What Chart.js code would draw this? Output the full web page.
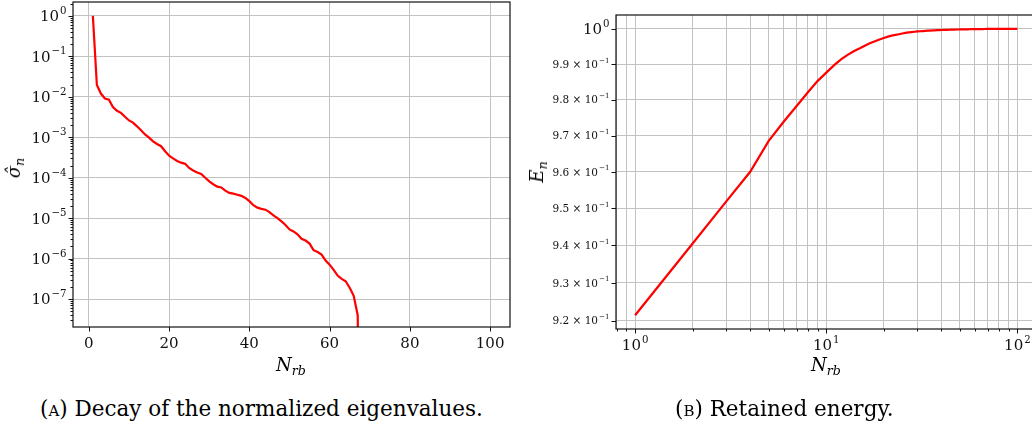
<!DOCTYPE html>
<html>
<head>
<meta charset="utf-8">
<script src="https://cdn.jsdelivr.net/npm/chart.js@4.4.0/dist/chart.umd.min.js"></script>
<style>
  html, body { margin: 0; padding: 0; background: #fff; }
  body { width: 1032px; height: 427px; position: relative; overflow: hidden; font-family: 'DejaVu Serif', serif; color: #000; }
  canvas { position: absolute; top: 0; }
  #decay { left: 0; }
  #energy { left: 540px; }
  .lbl { position: absolute; font-style: italic; font-size: 18px; line-height: 1; white-space: nowrap; transform: translate(-50%, -50%); }
  .lbl sub { font-size: 70%; vertical-align: -0.3em; line-height: 0; }
  .rot { transform: translate(-50%, -50%) rotate(-90deg); }
  .cap { position: absolute; top: 398px; font-size: 21.5px; line-height: 1; white-space: nowrap; }
  .sc { font-variant: small-caps; }
</style>
</head>
<body>
<canvas id="decay" width="530" height="360"></canvas>
<canvas id="energy" width="510" height="360"></canvas>

<div class="lbl rot" style="left:14px; top:168px;">σ̂<sub>n</sub></div>
<div class="lbl" style="left:291px; top:365px;">N<sub>rb</sub></div>
<div class="lbl rot" style="left:537px; top:172px;">E<sub>n</sub></div>
<div class="lbl" style="left:826px; top:365px;">N<sub>rb</sub></div>

<div class="cap" style="left:40px;"><span class="sc">(a)</span> Decay of the normalized eigenvalues.</div>
<div class="cap" style="left:675px;"><span class="sc">(b)</span> Retained energy.</div>

<script>
// number of reduced basis functions
const nRb = [
    1, 2, 3, 4, 5, 6, 7, 8, 9, 10,
    11, 12, 13, 14, 15, 16, 17, 18, 19, 20,
    21, 22, 23, 24, 25, 26, 27, 28, 29, 30,
    31, 32, 33, 34, 35, 36, 37, 38, 39, 40,
    41, 42, 43, 44, 45, 46, 47, 48, 49, 50,
    51, 52, 53, 54, 55, 56, 57, 58, 59, 60,
    61, 62, 63, 64, 65, 66, 67, 68, 69, 70,
    71, 72, 73, 74, 75, 76, 77, 78, 79, 80,
    81, 82, 83, 84, 85, 86, 87, 88, 89, 90,
    91, 92, 93, 94, 95, 96, 97, 98, 99, 100
];

// normalized eigenvalues (drop to round-off after 67)
const sigmaHat = [
    1, 1.95e-2, 1.2e-2, 9.1e-3, 8.5e-3, 5.6e-3, 4.5e-3, 4.0e-3, 3.2e-3, 2.6e-3,
    2.3e-3, 1.86e-3, 1.48e-3, 1.17e-3, 9.8e-4, 7.9e-4, 6.8e-4, 6.0e-4, 4.5e-4, 3.5e-4,
    3.0e-4, 2.6e-4, 2.35e-4, 2.2e-4, 1.74e-4, 1.51e-4, 1.35e-4, 1.23e-4, 1.0e-4, 8.1e-5,
    6.9e-5, 6.0e-5, 5.75e-5, 4.8e-5, 4.2e-5, 4.05e-5, 3.8e-5, 3.55e-5, 3.16e-5, 2.63e-5,
    2.09e-5, 1.82e-5, 1.7e-5, 1.62e-5, 1.41e-5, 1.17e-5, 1.0e-5, 8.3e-6, 6.8e-6, 5.25e-6,
    4.7e-6, 4.0e-6, 3.1e-6, 2.8e-6, 2.35e-6, 1.62e-6, 1.45e-6, 1.26e-6, 8.9e-7, 7.1e-7,
    5.25e-7, 3.8e-7, 3.16e-7, 2.75e-7, 1.9e-7, 1.2e-7, 4.0e-8, 1e-17
];

// retained energy
const energy = [
    0.9214, 0.9405, 0.9519, 0.9600, 0.9685, 0.9739, 0.9782, 0.9820, 0.9852, 0.9876,
    0.9897, 0.9914, 0.9927, 0.9937, 0.9945, 0.9953, 0.9960, 0.9965, 0.9970, 0.9974,
    0.9978, 0.9981, 0.9983, 0.9985, 0.9987, 0.9989, 0.9990, 0.9991, 0.9992, 0.9993,
    0.99935, 0.9994, 0.99945, 0.9995, 0.99954, 0.99958, 0.99961, 0.99964, 0.99967, 0.9997,
    0.99972, 0.99974, 0.99976, 0.99978, 0.9998, 0.99981, 0.99983, 0.99984, 0.99985, 0.99986,
    0.99987, 0.99988, 0.99989, 0.9999, 0.99991, 0.99992, 0.99993, 0.99994, 0.99995, 0.99995,
    0.99996, 0.99996, 0.99997, 0.99997, 0.99998, 0.99998, 0.99999, 0.99999, 1, 1,
    1, 1, 1, 1, 1, 1, 1, 1, 1, 1,
    1, 1, 1, 1, 1, 1, 1, 1, 1, 1,
    1, 1, 1, 1, 1, 1, 1, 1, 1, 1
];

// tick values and labels
const decayXTicks = [0, 20, 40, 60, 80, 100];
const decayYTicks = [1e-7, 1e-6, 1e-5, 1e-4, 1e-3, 1e-2, 1e-1, 1];
const decayYLabels = ['10⁻⁷', '10⁻⁶', '10⁻⁵', '10⁻⁴', '10⁻³', '10⁻²', '10⁻¹', '10⁰'];
const energyXTicks = [1, 10, 100];
const energyXLabels = ['10⁰', '10¹', '10²'];
const energyYTicks = [0.92, 0.93, 0.94, 0.95, 0.96, 0.97, 0.98, 0.99, 1];
const energyYLabels = ['9.2 × 10⁻¹', '9.3 × 10⁻¹', '9.4 × 10⁻¹', '9.5 × 10⁻¹', '9.6 × 10⁻¹',
                       '9.7 × 10⁻¹', '9.8 × 10⁻¹', '9.9 × 10⁻¹', '10⁰'];

const FONT = "'DejaVu Serif', serif";
const GRID = '#c2c2c2';
const BIG = 15;
const SMALL = 10.5;
const HIDDEN = 'rgba(0,0,0,0)';

// 2..9 multiples of every decade between lo and hi (tick marks only)
function minorLogTicks(lo, hi) {
    const out = [];
    for (let e = Math.floor(Math.log10(lo)); e <= Math.ceil(Math.log10(hi)); e++) {
        for (let m = 2; m <= 9; m++) {
            const v = m * Math.pow(10, e);
            if (v >= lo && v <= hi) out.push(v);
        }
    }
    return out;
}

function labelFor(values, labels, v) {
    const i = values.findIndex(t => Math.abs(t - v) < 1e-9 * Math.max(1, Math.abs(t)));
    return i < 0 ? '' : labels[i];
}

// '10⁻³' -> ['10', '−3']
const SUP = { '⁰': '0', '¹': '1', '²': '2', '³': '3', '⁴': '4', '⁵': '5',
              '⁶': '6', '⁷': '7', '⁸': '8', '⁹': '9', '⁻': '−' };
function splitPower(label) {
    const m = label.match(/^(.*?)([⁰¹²³⁴⁵⁶⁷⁸⁹⁻]+)$/);
    if (!m) return [label, ''];
    return [m[1], Array.from(m[2]).map(c => SUP[c]).join('')];
}

// fixed axis thickness, no extra label padding
function fixSize(size) {
    return function (scale) {
        if (scale.isHorizontal()) scale.height = size; else scale.width = size;
        scale.paddingTop = scale.paddingBottom = scale.paddingLeft = scale.paddingRight = 0;
    };
}

// outward tick marks, the axes frame and the tick labels with raised exponents
const frameAndTicks = {
    id: 'frameAndTicks',
    afterDraw(chart) {
        const { ctx, chartArea: a } = chart;
        ctx.save();
        ctx.strokeStyle = '#111';
        ctx.lineWidth = 1;
        Object.values(chart.scales).forEach(scale => {
            scale.ticks.forEach(t => {
                if (t.value < scale.min || t.value > scale.max) return;
                const len = t.major ? 4.5 : 2.5;
                const p = Math.round(scale.getPixelForValue(t.value)) + 0.5;
                ctx.beginPath();
                if (scale.isHorizontal()) {
                    ctx.moveTo(p, a.bottom);
                    ctx.lineTo(p, a.bottom + len);
                } else {
                    ctx.moveTo(a.left, p);
                    ctx.lineTo(a.left - len, p);
                }
                ctx.stroke();
            });
        });
        ctx.lineWidth = 1.2;
        ctx.strokeRect(a.left, a.top, a.right - a.left, a.bottom - a.top);

        ctx.fillStyle = '#111';
        ctx.textBaseline = 'alphabetic';
        ctx.textAlign = 'left';
        Object.values(chart.scales).forEach(scale => {
            scale.ticks.forEach(t => {
                if (!t.label) return;
                const [base, exp] = splitPower(t.label);
                const size = t.size || BIG;
                const sup = size * 0.68;
                const p = scale.getPixelForValue(t.value);
                ctx.font = size + 'px ' + FONT;
                const wb = ctx.measureText(base).width;
                ctx.font = sup + 'px ' + FONT;
                const we = exp ? ctx.measureText(exp).width + 1 : 0;
                let x0, y0;
                if (scale.isHorizontal()) {
                    x0 = p - (wb + we) / 2;
                    y0 = a.bottom + 21;
                } else {
                    x0 = a.left - 6.5 - wb - we;
                    y0 = p + size * 0.36;
                }
                ctx.font = size + 'px ' + FONT;
                ctx.fillText(base, x0, y0);
                if (exp) {
                    ctx.font = sup + 'px ' + FONT;
                    ctx.fillText(exp, x0 + wb + 1, y0 - size * 0.5);
                }
            });
        });
        ctx.restore();
    }
};

const common = {
    responsive: false,
    animation: false,
    events: [],
    plugins: { legend: { display: false }, tooltip: { enabled: false } }
};

function gridColor(ctx) {
    return ctx.tick && ctx.tick.grid ? GRID : HIDDEN;
}

// (a) decay of the normalized eigenvalues
new Chart(document.getElementById('decay'), {
    type: 'line',
    data: {
        datasets: [{
            data: sigmaHat.map((v, i) => ({ x: nRb[i], y: v })),
            borderColor: '#ff0000',
            borderWidth: 2.2,
            pointRadius: 0,
            tension: 0
        }]
    },
    options: {
        ...common,
        layout: { padding: { left: 0, top: 2, right: 20, bottom: 0 } },
        scales: {
            x: {
                type: 'linear',
                min: -3.95,
                max: 104.95,
                afterBuildTicks: s => {
                    s.ticks = decayXTicks.map(v => ({ value: v, major: true, grid: true, size: BIG }));
                    s.min = -3.95; s.max = 104.95;
                },
                afterFit: fixSize(33),
                ticks: {
                    autoSkip: false, maxRotation: 0, padding: 7, color: HIDDEN,
                    font: { family: FONT, size: BIG },
                    callback: v => String(v)
                },
                grid: { color: gridColor, lineWidth: 1, drawTicks: false },
                border: { display: false }
            },
            y: {
                type: 'logarithmic',
                min: 2.04e-8,
                max: 2.2,
                afterBuildTicks: s => {
                    const major = decayYTicks.map(v => ({ value: v, major: true, grid: true, size: BIG }));
                    const minor = minorLogTicks(2.04e-8, 2.2).map(v => ({ value: v, major: false, grid: false }));
                    s.ticks = major.concat(minor).sort((p, q) => p.value - q.value);
                    s.min = 2.04e-8; s.max = 2.2;
                },
                afterFit: fixSize(73),
                ticks: {
                    autoSkip: false, padding: 7, color: HIDDEN,
                    font: { family: FONT, size: BIG },
                    callback: v => labelFor(decayYTicks, decayYLabels, v)
                },
                grid: { color: gridColor, lineWidth: 1, drawTicks: false },
                border: { display: false }
            }
        }
    },
    plugins: [frameAndTicks]
});

// (b) retained energy
new Chart(document.getElementById('energy'), {
    type: 'line',
    data: {
        datasets: [{
            data: energy.map((v, i) => ({ x: nRb[i], y: v })),
            borderColor: '#ff0000',
            borderWidth: 2.2,
            pointRadius: 0,
            tension: 0
        }]
    },
    options: {
        ...common,
        layout: { padding: { left: 0, top: 15, right: 13.5, bottom: 0 } },
        scales: {
            x: {
                type: 'logarithmic',
                min: 0.7943,
                max: 125.9,
                afterBuildTicks: s => {
                    const major = energyXTicks.map(v => ({ value: v, major: true, grid: true, size: BIG }));
                    const minor = minorLogTicks(0.7943, 125.9).map(v => ({ value: v, major: false, grid: true }));
                    s.ticks = major.concat(minor).sort((p, q) => p.value - q.value);
                    s.min = 0.7943; s.max = 125.9;
                },
                afterFit: fixSize(31),
                ticks: {
                    autoSkip: false, maxRotation: 0, padding: 7, color: HIDDEN,
                    font: { family: FONT, size: BIG },
                    callback: v => labelFor(energyXTicks, energyXLabels, v)
                },
                grid: { color: gridColor, lineWidth: 1, drawTicks: false },
                border: { display: false }
            },
            y: {
                type: 'logarithmic',
                min: 0.9178,
                max: 1.004,
                afterBuildTicks: s => {
                    s.ticks = energyYTicks.map(v => ({ value: v, major: true, grid: true, size: v === 1 ? BIG : SMALL }));
                    s.min = 0.9178; s.max = 1.004;
                },
                afterFit: fixSize(76),
                ticks: {
                    autoSkip: false, padding: 7, color: HIDDEN,
                    font: { family: FONT, size: SMALL },
                    callback: v => labelFor(energyYTicks, energyYLabels, v)
                },
                grid: { color: gridColor, lineWidth: 1, drawTicks: false },
                border: { display: false }
            }
        }
    },
    plugins: [frameAndTicks]
});
</script>
</body>
</html>
